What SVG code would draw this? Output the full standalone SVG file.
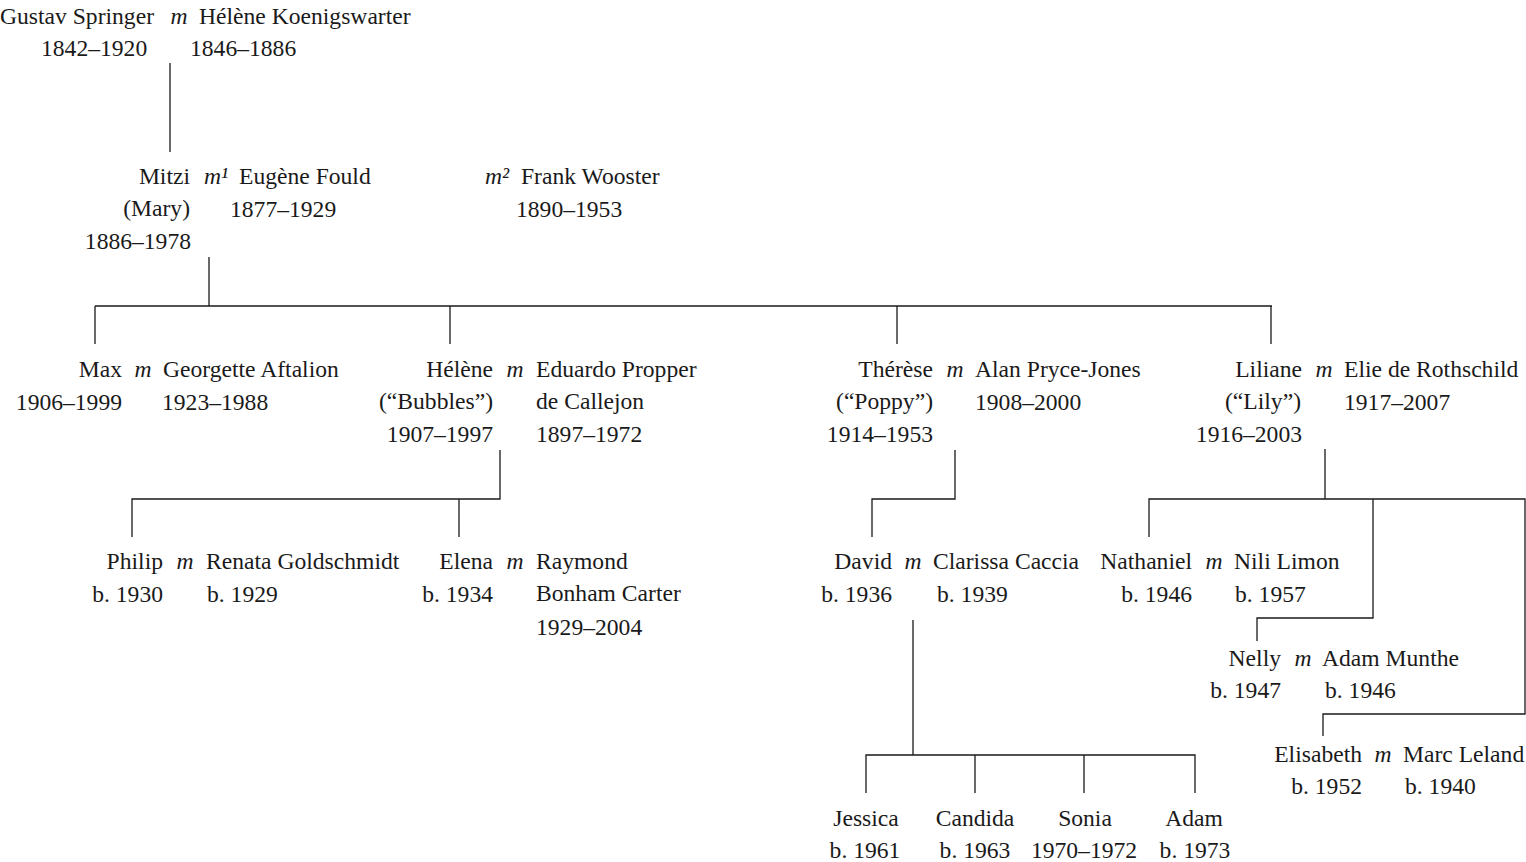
<svg xmlns="http://www.w3.org/2000/svg" width="1526" height="862" viewBox="0 0 1526 862">
<style>
text{font-family:"Liberation Serif","Times New Roman",serif;font-size:23.6px;fill:#1a1a1a}
.e{text-anchor:end}
.c{text-anchor:middle}
.m{font-style:italic;text-anchor:middle}
.ln{stroke:#1a1a1a;stroke-width:1.3;fill:none}
</style>
<rect width="1526" height="862" fill="#fff"/>
<g id="connectors" class="ln">
<path d="M170 63V152"/>
<path d="M209 257V306M95 306H1272M95 306V344M450 306V344M897 306V344M1271 306V344"/>
<path d="M500 450V499H132V537M459 499V537"/>
<path d="M955 450V499H872V537"/>
<path d="M1325 449V499M1149 537V499H1525V714H1323V736M1373 499V618H1257V641"/>
<path d="M913 620V755M866 793V755H1195V793M975 755V793M1084 755V793"/>
</g>
<g id="gustav-helene">
<text x="0" y="24">Gustav Springer</text>
<text x="179" y="24" class="m">m</text>
<text x="199" y="24">Hélène Koenigswarter</text>
<text x="41" y="56">1842–1920</text>
<text x="190" y="56">1846–1886</text>
</g>
<g id="mitzi">
<text x="190" y="184" class="e">Mitzi</text>
<text x="204" y="184" font-style="italic">m¹</text>
<text x="239" y="184">Eugène Fould</text>
<text x="190" y="216" class="e">(Mary)</text>
<text x="191" y="249" class="e">1886–1978</text>
<text x="230" y="217">1877–1929</text>
</g>
<g id="frank">
<text x="485" y="184" font-style="italic">m²</text>
<text x="521" y="184">Frank Wooster</text>
<text x="516" y="217">1890–1953</text>
</g>
<g id="max">
<text x="122" y="377" class="e">Max</text>
<text x="143" y="377" class="m">m</text>
<text x="163" y="377">Georgette Aftalion</text>
<text x="122" y="410" class="e">1906–1999</text>
<text x="162" y="410">1923–1988</text>
</g>
<g id="helene">
<text x="493" y="377" class="e">Hélène</text>
<text x="515" y="377" class="m">m</text>
<text x="536" y="377">Eduardo Propper</text>
<text x="493" y="409" class="e">(“Bubbles”)</text>
<text x="493" y="442" class="e">1907–1997</text>
<text x="536" y="409">de Callejon</text>
<text x="536" y="442">1897–1972</text>
</g>
<g id="therese">
<text x="933" y="377" class="e">Thérèse</text>
<text x="955" y="377" class="m">m</text>
<text x="975" y="377">Alan Pryce-Jones</text>
<text x="933" y="409" class="e">(“Poppy”)</text>
<text x="933" y="442" class="e">1914–1953</text>
<text x="975" y="410">1908–2000</text>
</g>
<g id="liliane">
<text x="1302" y="377" class="e">Liliane</text>
<text x="1324" y="377" class="m">m</text>
<text x="1344" y="377">Elie de Rothschild</text>
<text x="1301" y="409" class="e">(“Lily”)</text>
<text x="1302" y="442" class="e">1916–2003</text>
<text x="1344" y="410">1917–2007</text>
</g>
<g id="philip">
<text x="163" y="569" class="e">Philip</text>
<text x="185" y="569" class="m">m</text>
<text x="206" y="569">Renata Goldschmidt</text>
<text x="163" y="602" class="e">b. 1930</text>
<text x="207" y="602">b. 1929</text>
</g>
<g id="elena">
<text x="493" y="569" class="e">Elena</text>
<text x="515" y="569" class="m">m</text>
<text x="536" y="569">Raymond</text>
<text x="493" y="602" class="e">b. 1934</text>
<text x="536" y="601">Bonham Carter</text>
<text x="536" y="635">1929–2004</text>
</g>
<g id="david">
<text x="892" y="569" class="e">David</text>
<text x="913" y="569" class="m">m</text>
<text x="933" y="569">Clarissa Caccia</text>
<text x="892" y="602" class="e">b. 1936</text>
<text x="937" y="602">b. 1939</text>
</g>
<g id="nathaniel">
<text x="1192" y="569" class="e">Nathaniel</text>
<text x="1214" y="569" class="m">m</text>
<text x="1234" y="569">Nili Limon</text>
<text x="1192" y="602" class="e">b. 1946</text>
<text x="1235" y="602">b. 1957</text>
</g>
<g id="nelly">
<text x="1281" y="666" class="e">Nelly</text>
<text x="1303" y="666" class="m">m</text>
<text x="1322" y="666">Adam Munthe</text>
<text x="1281" y="698" class="e">b. 1947</text>
<text x="1325" y="698">b. 1946</text>
</g>
<g id="elisabeth">
<text x="1362" y="762" class="e">Elisabeth</text>
<text x="1383" y="762" class="m">m</text>
<text x="1403" y="762">Marc Leland</text>
<text x="1362" y="794" class="e">b. 1952</text>
<text x="1405" y="794">b. 1940</text>
</g>
<g id="jessica">
<text x="866" y="826" class="c">Jessica</text>
<text x="865" y="858" class="c">b. 1961</text>
</g>
<g id="candida">
<text x="975" y="826" class="c">Candida</text>
<text x="975" y="858" class="c">b. 1963</text>
</g>
<g id="sonia">
<text x="1085" y="826" class="c">Sonia</text>
<text x="1084" y="858" class="c">1970–1972</text>
</g>
<g id="adam">
<text x="1194" y="826" class="c">Adam</text>
<text x="1195" y="858" class="c">b. 1973</text>
</g>
</svg>
